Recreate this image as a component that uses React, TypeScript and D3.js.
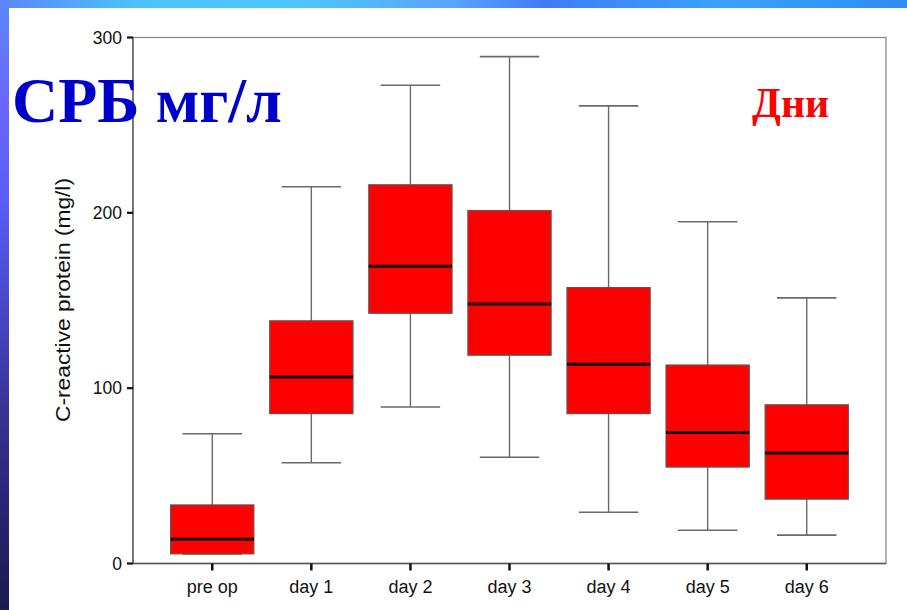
import React from "react";
import * as d3 from "d3";

// Days after surgery
const categories = ["pre op", "day 1", "day 2", "day 3", "day 4", "day 5", "day 6"];
// Box-plot statistics of C-reactive protein, mg/l
const whiskerLow = [5.5, 57.5, 89.3, 60.6, 29.2, 19, 16.2];
const quartile1 = [5.5, 85.5, 142.7, 118.8, 85.5, 55, 36.7];
const medians = [13.8, 106.4, 169.6, 148, 113.6, 74.7, 63];
const quartile3 = [33.4, 138.4, 216, 201.3, 157.4, 113.2, 90.5];
const whiskerHigh = [74, 214.9, 272.8, 289.1, 261, 194.9, 151.5];
const yTicks = [0, 100, 200, 300];

const W = 907;
const H = 610;
const plot = { left: 133, right: 886, top: 37.5, bottom: 563.5 };

export default function App() {
  const x = d3
    .scalePoint<string>()
    .domain(categories)
    .range([plot.left, plot.right])
    .padding(0.8);
  const y = d3.scaleLinear().domain([0, 300]).range([plot.bottom, plot.top]);
  const step = x.step();
  const boxW = step * 0.84;
  const capW = step * 0.6;
  const font = "Arial, 'Liberation Sans', sans-serif";

  return (
    <svg
      width={W}
      height={H}
      style={{ position: "absolute", left: 0, top: 0, display: "block" }}
    >
      <defs>
        <linearGradient id="topBand" x1="0" x2="1" y1="0" y2="0">
          <stop offset="0" stopColor="#5b86f8" />
          <stop offset="0.15" stopColor="#4cc2fb" />
          <stop offset="0.32" stopColor="#4cc8fb" />
          <stop offset="0.5" stopColor="#5aa4fa" />
          <stop offset="0.6" stopColor="#3f7cf6" />
          <stop offset="0.8" stopColor="#3aa2f8" />
          <stop offset="1" stopColor="#2f8cf0" />
        </linearGradient>
        <linearGradient id="leftBand" x1="0" x2="0" y1="0" y2="1">
          <stop offset="0" stopColor="#5a88fc" />
          <stop offset="0.17" stopColor="#6a66fa" />
          <stop offset="0.33" stopColor="#5a5cfb" />
          <stop offset="0.5" stopColor="#4848c8" />
          <stop offset="0.66" stopColor="#3a3498" />
          <stop offset="0.82" stopColor="#2a2478" />
          <stop offset="1" stopColor="#1a1c4c" />
        </linearGradient>
      </defs>

      <rect x={0} y={0} width={W} height={H} fill="#ffffff" />
      <rect x={0} y={0} width={W} height={8} fill="url(#topBand)" />
      <rect x={0} y={0} width={9} height={H} fill="url(#leftBand)" />

      {/* plot frame */}
      <rect
        x={plot.left}
        y={plot.top}
        width={plot.right - plot.left}
        height={plot.bottom - plot.top}
        fill="none"
        stroke="#8a8a8a"
        strokeWidth={1.3}
      />
      <line x1={plot.left} x2={plot.left} y1={plot.top} y2={plot.bottom} stroke="#555" strokeWidth={1.3} />
      <line x1={plot.left} x2={plot.right} y1={plot.bottom} y2={plot.bottom} stroke="#555" strokeWidth={1.3} />

      {/* y axis */}
      {yTicks.map((t) => (
        <g key={t}>
          <line x1={plot.left - 6} x2={plot.left} y1={y(t)} y2={y(t)} stroke="#111" strokeWidth={2.2} />
          <text
            x={plot.left - 11}
            y={y(t)}
            dy="0.35em"
            textAnchor="end"
            fontFamily={font}
            fontSize={17.5}
            fill="#111"
          >
            {t}
          </text>
        </g>
      ))}
      <text
        transform={`translate(${69.5},${300}) rotate(-90)`}
        textAnchor="middle"
        fontFamily={font}
        fontSize={19.5}
        textLength={244}
        lengthAdjust="spacingAndGlyphs"
        fill="#111"
      >
        C-reactive protein (mg/l)
      </text>

      {/* x axis */}
      {categories.map((c) => (
        <g key={c}>
          <line x1={x(c)} x2={x(c)} y1={plot.bottom} y2={plot.bottom + 7} stroke="#111" strokeWidth={2.5} />
          <text
            x={x(c)}
            y={plot.bottom + 29}
            textAnchor="middle"
            fontFamily={font}
            fontSize={18}
            fill="#111"
          >
            {c}
          </text>
        </g>
      ))}

      {/* boxes */}
      {categories.map((c, i) => {
        const cx = x(c) as number;
        return (
          <g key={c}>
            <line x1={cx} x2={cx} y1={y(whiskerHigh[i])} y2={y(quartile3[i])} stroke="#6a6a6a" strokeWidth={1.4} />
            <line x1={cx} x2={cx} y1={y(quartile1[i])} y2={y(whiskerLow[i])} stroke="#6a6a6a" strokeWidth={1.4} />
            <line
              x1={cx - capW / 2}
              x2={cx + capW / 2}
              y1={y(whiskerHigh[i])}
              y2={y(whiskerHigh[i])}
              stroke="#6a6a6a"
              strokeWidth={1.6}
            />
            <line
              x1={cx - capW / 2}
              x2={cx + capW / 2}
              y1={y(whiskerLow[i])}
              y2={y(whiskerLow[i])}
              stroke="#6a6a6a"
              strokeWidth={1.6}
            />
            <rect
              x={cx - boxW / 2}
              y={y(quartile3[i])}
              width={boxW}
              height={y(quartile1[i]) - y(quartile3[i])}
              fill="#ff0000"
              stroke="#6a5050"
              strokeWidth={1.2}
            />
            <line
              x1={cx - boxW / 2}
              x2={cx + boxW / 2}
              y1={y(medians[i])}
              y2={y(medians[i])}
              stroke="#150000"
              strokeWidth={3}
            />
          </g>
        );
      })}

      {/* slide captions */}
      <text
        x={12}
        y={122}
        fontFamily="'Liberation Serif', 'Times New Roman', serif"
        fontWeight="bold"
        fontSize={64}
        fill="#0000cc"
      >
        СРБ мг/л
      </text>
      <text
        x={752}
        y={117}
        fontFamily="'Liberation Serif', 'Times New Roman', serif"
        fontWeight="bold"
        fontSize={42}
        fill="#ff0000"
      >
        Дни
      </text>
    </svg>
  );
}
